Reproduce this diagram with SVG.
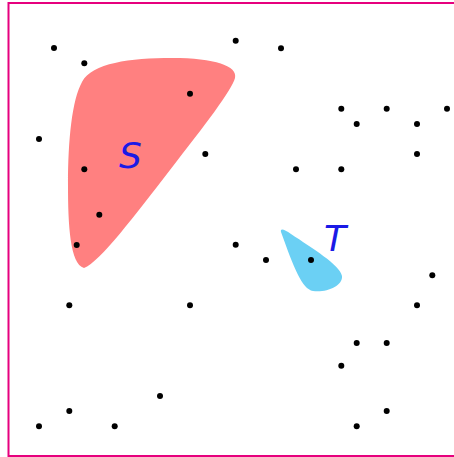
<svg xmlns="http://www.w3.org/2000/svg" width="454" height="457" viewBox="0 0 454 457">
<style>
.frame{fill:none;stroke:#e6007e;stroke-width:2}
.dot{fill:#000}
.lbl{font-family:"DejaVu Sans",sans-serif;font-style:italic;font-size:36px;fill:#1a1ae6}
</style>
<rect width="454" height="457" fill="#fff"/>
<rect class="frame" x="8.5" y="3" width="460" height="453"/>
<g id="S">
<path d="M 84,268 C 70,264 68,225 68,185 C 68,140 72,100 82,82 C 92,63 130,58 172,58 C 215,58 238,66 235,78 C 232,90 205,125 170,170 C 135,215 100,262 84,268 Z" fill="#ff8080"/>
<text class="lbl" x="119" y="168">S</text>
</g>
<g id="T">
<path d="M 281,232 C 280,228 284,229 291,234 C 312,248 340,265 342,276 C 343,286 326,293 313,291 C 302,289 294,268 281,232 Z" fill="#6bd0f4"/>
<text class="lbl" x="324" y="251">T</text>
</g>
<g id="points">
<circle class="dot" cx="54" cy="48" r="3"/>
<circle class="dot" cx="84.3" cy="63.3" r="3"/>
<circle class="dot" cx="190" cy="93.7" r="3"/>
<circle class="dot" cx="39" cy="139" r="3"/>
<circle class="dot" cx="205.3" cy="154" r="3"/>
<circle class="dot" cx="84.3" cy="169.3" r="3"/>
<circle class="dot" cx="99.3" cy="214.7" r="3"/>
<circle class="dot" cx="235.7" cy="40.7" r="3"/>
<circle class="dot" cx="281" cy="48.3" r="3"/>
<circle class="dot" cx="341.3" cy="108.7" r="3"/>
<circle class="dot" cx="386.7" cy="108.7" r="3"/>
<circle class="dot" cx="447" cy="108.7" r="3"/>
<circle class="dot" cx="356.7" cy="124" r="3"/>
<circle class="dot" cx="417" cy="124" r="3"/>
<circle class="dot" cx="417" cy="154" r="3"/>
<circle class="dot" cx="296" cy="169.3" r="3"/>
<circle class="dot" cx="341.3" cy="169.3" r="3"/>
<circle class="dot" cx="76.7" cy="245" r="3"/>
<circle class="dot" cx="69.3" cy="305.3" r="3"/>
<circle class="dot" cx="190" cy="305.3" r="3"/>
<circle class="dot" cx="160" cy="396" r="3"/>
<circle class="dot" cx="69.3" cy="411" r="3"/>
<circle class="dot" cx="39" cy="426.3" r="3"/>
<circle class="dot" cx="114.7" cy="426.3" r="3"/>
<circle class="dot" cx="235.7" cy="244.7" r="3"/>
<circle class="dot" cx="266" cy="260" r="3"/>
<circle class="dot" cx="311" cy="260" r="3"/>
<circle class="dot" cx="432.3" cy="275.3" r="3"/>
<circle class="dot" cx="417" cy="305.3" r="3"/>
<circle class="dot" cx="356.7" cy="343" r="3"/>
<circle class="dot" cx="386.7" cy="343" r="3"/>
<circle class="dot" cx="341.3" cy="365.7" r="3"/>
<circle class="dot" cx="386.7" cy="411" r="3"/>
<circle class="dot" cx="356.7" cy="426.3" r="3"/>
</g>
</svg>
